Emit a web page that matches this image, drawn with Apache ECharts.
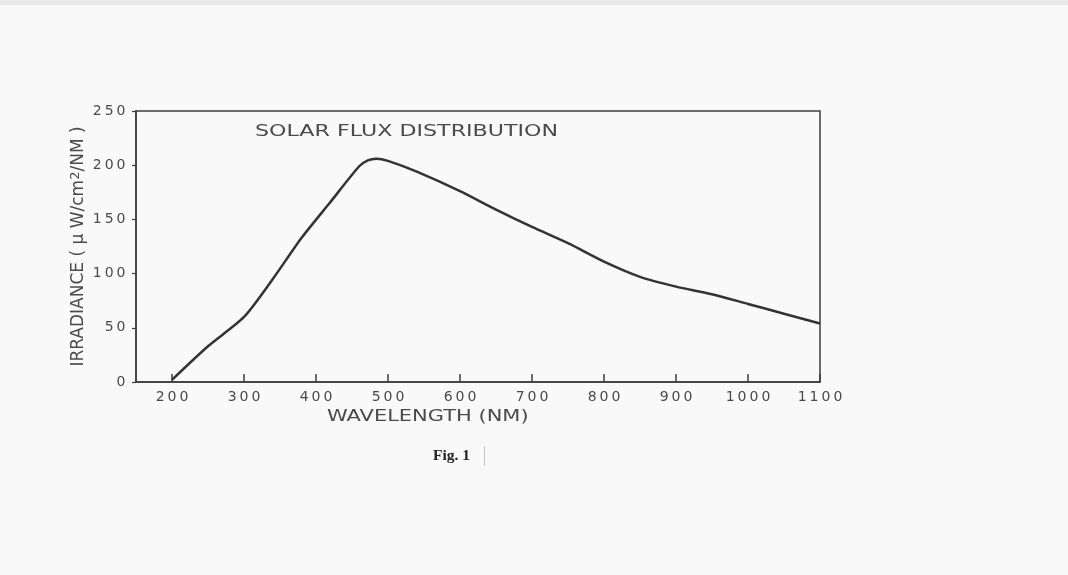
<!DOCTYPE html>
<html>
<head>
<meta charset="utf-8">
<script src="https://cdn.jsdelivr.net/npm/echarts@6/dist/echarts.min.js"></script>
<style>
html,body{margin:0;padding:0;background:#f8f8f8;}
#c{width:1068px;height:575px;}
</style>
</head>
<body>
<div id="c"></div>
<script>
const wavelengths = [200, 250, 300, 340, 380, 420, 460, 472, 484, 500, 540, 600, 650, 700, 750, 800, 850, 900, 950, 1000, 1050, 1100];
const irradiance = [2, 33, 60, 95, 133, 166, 199, 204.5, 206, 204, 194, 176, 159, 143, 128, 111, 97, 88, 81, 72, 63, 54];
const xTicks = [200, 300, 400, 500, 600, 700, 800, 900, 1000, 1100];
const yTicks = [0, 50, 100, 150, 200, 250];
const titleText = 'SOLAR FLUX DISTRIBUTION';
const xName = 'WAVELENGTH (NM)';
const figText = 'Fig. 1';

const chart = echarts.init(document.getElementById('c'));
const ink = '#3c3c3c';
const txt = '#4a4a4a';
const font = 'DejaVu Sans';
const spaced = v => String(v).split('').map(c => '{d|' + c + '}').join('');
const digitRich = {d: {fontFamily: font, fontSize: 14, color: txt, padding: [0, 1.5, 0, 1.5]}};
chart.setOption({
  backgroundColor: '#f9f9f9',
  animation: false,
  grid: {left: 136, right: 248, top: 111, bottom: 193},
  xAxis: {
    type: 'value', min: 150, max: 1100,
    axisLine: {show: true, lineStyle: {color: ink, width: 1.5}},
    axisTick: {show: true, inside: true, length: 8, lineStyle: {color: ink, width: 1.5},
      customValues: xTicks},
    axisLabel: {color: txt, margin: 8, customValues: xTicks, formatter: spaced, rich: digitRich},
    splitLine: {show: false}
  },
  yAxis: {
    type: 'value', min: 0, max: 250, interval: 50,
    name: 'IRRADIANCE ( μ W/cm{s|2}/NM )',
    nameLocation: 'middle', nameGap: 47, nameRotate: 90, nameMoveOverlap: false,
    nameTextStyle: {color: txt, fontFamily: font, fontSize: 17,
      rich: {s: {fontSize: 13, verticalAlign: 'top', color: txt, fontFamily: font, padding: [0,0,7,0]}}},
    axisLine: {show: true, lineStyle: {color: ink, width: 1.5}},
    axisTick: {show: true, inside: false, length: 4, lineStyle: {color: ink, width: 1.2}},
    axisLabel: {color: txt, margin: 9, formatter: spaced, rich: digitRich},
    splitLine: {show: false}
  },
  graphic: [
    {type: 'rect', shape: {x: 0, y: 0, width: 1068, height: 5}, style: {fill: '#e8e8e8'}, silent: true},
    {type: 'rect', shape: {x: 136, y: 111, width: 684, height: 271}, style: {fill: 'none', stroke: ink, lineWidth: 1.5}, silent: true, z: 0},
    {type: 'text', x: 255, y: 124, scaleX: 1.43, style: {text: titleText, fill: txt, font: '15.5px "DejaVu Sans"', textVerticalAlign: 'top'}},
    {type: 'text', x: 327, y: 409, scaleX: 1.31, style: {text: xName, fill: txt, font: '16px "DejaVu Sans"', textVerticalAlign: 'top'}},
    {type: 'text', x: 433, y: 448, style: {text: figText, fill: '#222', font: 'bold 15.5px "Liberation Serif"', textVerticalAlign: 'top'}},
    {type: 'rect', shape: {x: 484, y: 446, width: 1, height: 20}, style: {fill: '#c4c4c4'}}
  ],
  series: [{
    type: 'line',
    data: wavelengths.map((w, i) => [w, irradiance[i]]),
    smooth: 0.25,
    showSymbol: false,
    lineStyle: {color: '#333', width: 2.5}
  }]
});
</script>
</body>
</html>
